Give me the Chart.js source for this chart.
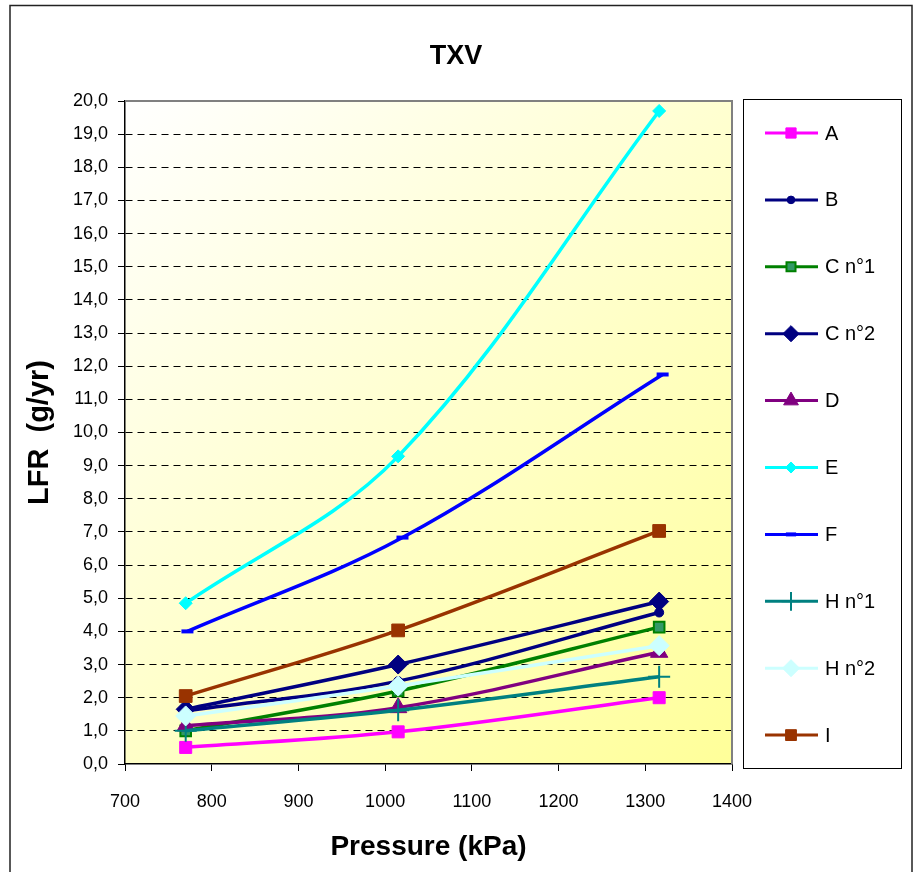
<!DOCTYPE html>
<html>
<head>
<meta charset="utf-8">
<title>TXV</title>
<script src="https://cdn.jsdelivr.net/npm/chart.js@4.4.1/dist/chart.umd.min.js"></script>
<style>
  html, body { margin: 0; padding: 0; background: #fff; }
  canvas { display: block; }
</style>
</head>
<body>
<canvas id="canvasTXV" width="920" height="872"></canvas>
<script>
// Presiones de ensayo (kPa); la serie F se midió en puntos ligeramente distintos
const presiones = [770, 1015, 1316];
const presionesF = [772, 1020, 1320];

// LFR (g/yr) de cada muestra
const lfrA = [0.5, 0.97, 2.0];
const lfrB = [1.6, 2.5, 4.57];
const lfrC1 = [1.0, 2.2, 4.13];
const lfrC2 = [1.65, 3.0, 4.9];
const lfrD = [1.15, 1.7, 3.37];
const lfrE = [4.85, 9.28, 19.7];
const lfrF = [4.0, 6.83, 11.75];
const lfrH1 = [1.0, 1.62, 2.63];
const lfrH2 = [1.45, 2.35, 3.57];
const lfrI = [2.05, 4.03, 7.03];

const etiquetas = ['A', 'B', 'C n°1', 'C n°2', 'D', 'E', 'F', 'H n°1', 'H n°2', 'I'];

// Ejes
const ejeXMin = 700, ejeXMax = 1400, ejeXPaso = 100;
const ejeYMin = 0, ejeYMax = 20, ejeYPaso = 1;

const puntos = (xs, ys) => ys.map((y, i) => ({ x: xs[i], y: y }));

// Estilo de cada serie: color de línea, marcador, relleno del marcador
const estilos = [
    { color: '#ff00ff', marcador: 'rect', radio: 8.5, relleno: '#ff00ff', borde: 1 },
    { color: '#000080', marcador: 'circle', radio: 4.5, relleno: '#000080', borde: 1 },
    { color: '#008000', marcador: 'rect', radio: 7.5, relleno: '#339966', borde: 2 },
    { color: '#000080', marcador: 'rectRot', radio: 9.5, relleno: '#000080', borde: 1 },
    { color: '#800080', marcador: 'triangle', radio: 10, relleno: '#800080', borde: 1 },
    { color: '#00ffff', marcador: 'rectRot', radio: 6.5, relleno: '#00ffff', borde: 1 },
    { color: '#0000ff', marcador: 'line', radio: 6, relleno: '#0000ff', borde: 4 },
    { color: '#008080', marcador: 'cross', radio: 11, relleno: '#008080', borde: 2 },
    { color: '#ccffff', marcador: 'rectRot', radio: 10, relleno: '#ccffff', borde: 1 },
    { color: '#993300', marcador: 'rect', radio: 9, relleno: '#993300', borde: 1 }
];

const valores = [lfrA, lfrB, lfrC1, lfrC2, lfrD, lfrE, lfrF, lfrH1, lfrH2, lfrI];

const datasets = valores.map((ys, i) => {
    const e = estilos[i];
    const xs = etiquetas[i] === 'F' ? presionesF : presiones;
    return {
        label: etiquetas[i],
        data: puntos(xs, ys),
        borderColor: e.color,
        borderWidth: 3.5,
        tension: 0.35,
        fill: false,
        pointStyle: e.marcador,
        pointRadius: e.radio,
        pointBackgroundColor: e.relleno,
        pointBorderColor: e.color,
        pointBorderWidth: e.borde,
        order: -i // la última serie queda encima
    };
});

// Fondo degradado del área de trazado y marco gris superior/derecho
const fondoArea = {
    id: 'fondoArea',
    beforeDraw(chart) {
        const { ctx, chartArea: a } = chart;
        const g = ctx.createLinearGradient(a.left, a.top, a.right, a.bottom);
        g.addColorStop(0, '#ffffff');
        g.addColorStop(1, '#ffff99');
        ctx.save();
        ctx.fillStyle = g;
        ctx.fillRect(a.left, a.top, a.right - a.left, a.bottom - a.top);
        ctx.restore();
    },
    beforeDatasetsDraw(chart) {
        const { ctx, chartArea: a } = chart;
        ctx.save();
        ctx.strokeStyle = '#808080';
        ctx.lineWidth = 2;
        ctx.beginPath();
        ctx.moveTo(a.left, a.top);
        ctx.lineTo(a.right, a.top);
        ctx.lineTo(a.right, a.bottom);
        ctx.stroke();
        ctx.restore();
    },
    afterDraw(chart) {
        const ctx = chart.ctx;
        ctx.save();
        ctx.strokeStyle = '#222';
        ctx.lineWidth = 1.5;
        ctx.strokeRect(10, 5.5, chart.width - 18, chart.height - 4);
        ctx.restore();
    }
};

// Leyenda en caja a la derecha: línea con su marcador y el nombre
const leyendaCaja = {
    id: 'leyendaCaja',
    afterDraw(chart) {
        const { ctx, chartArea: a } = chart;
        const x0 = a.right + 11, y0 = a.top - 2;
        const ancho = 158, alto = a.bottom - a.top + 6;
        const paso = 66.9;
        ctx.save();
        ctx.fillStyle = '#fff';
        ctx.fillRect(x0, y0, ancho, alto);
        ctx.strokeStyle = '#000';
        ctx.lineWidth = 1;
        ctx.strokeRect(x0 + 0.5, y0 + 0.5, ancho, alto);
        chart.data.datasets.forEach((ds, i) => {
            const cy = y0 + 34 + i * paso;
            ctx.strokeStyle = ds.borderColor;
            ctx.lineWidth = 3;
            ctx.beginPath();
            ctx.moveTo(x0 + 22, cy);
            ctx.lineTo(x0 + 75, cy);
            ctx.stroke();
            ctx.fillStyle = ds.pointBackgroundColor;
            ctx.strokeStyle = ds.pointBorderColor;
            ctx.lineWidth = ds.pointBorderWidth;
            Chart.helpers.drawPoint(ctx, {
                pointStyle: ds.pointStyle,
                radius: ds.pointRadius * 0.85,
                borderWidth: ds.pointBorderWidth,
                rotation: 0
            }, x0 + 48, cy);
            ctx.fillStyle = '#000';
            ctx.font = '20px Arial, "Liberation Sans", sans-serif';
            ctx.textBaseline = 'middle';
            ctx.textAlign = 'left';
            ctx.fillText(ds.label, x0 + 82, cy + 1);
        });
        ctx.restore();
    }
};

const fuente = 'Arial, "Liberation Sans", sans-serif';

new Chart(document.getElementById('canvasTXV').getContext('2d'), {
    type: 'line',
    data: { datasets: datasets },
    options: {
        responsive: false,
        animation: false,
        events: [],
        layout: { padding: { left: 0, right: 8, top: 0, bottom: 8 } },
        plugins: {
            legend: { display: false },
            tooltip: { enabled: false },
            title: {
                display: true,
                text: 'TXV',
                color: '#000',
                font: { family: fuente, size: 27, weight: 'bold', lineHeight: 1.2 },
                padding: { top: 40, bottom: 28.6 }
            }
        },
        scales: {
            x: {
                type: 'linear',
                min: ejeXMin,
                max: ejeXMax,
                afterFit: s => { s.height = 100; },
                ticks: {
                    stepSize: ejeXPaso,
                    color: '#000',
                    padding: 20,
                    maxRotation: 0,
                    font: { family: fuente, size: 18 },
                    callback: v => String(v)
                },
                grid: { drawOnChartArea: false, drawTicks: true, tickLength: 7, color: '#000' },
                border: { display: true, color: '#000', width: 1.5 },
                title: {
                    display: true,
                    text: 'Pressure (kPa)',
                    color: '#000',
                    font: { family: fuente, size: 28, weight: 'bold', lineHeight: 1.2 },
                    padding: { top: 0, bottom: 0 }
                }
            },
            y: {
                min: ejeYMin,
                max: ejeYMax,
                afterFit: s => { s.width = 125; },
                ticks: {
                    stepSize: ejeYPaso,
                    color: '#000',
                    padding: 10,
                    font: { family: fuente, size: 18 },
                    callback: v => v.toFixed(1).replace('.', ',')
                },
                grid: {
                    color: c => (c.tick && (c.tick.value === ejeYMin || c.tick.value === ejeYMax)) ? 'rgba(0,0,0,0)' : '#000',
                    tickColor: '#000',
                    lineWidth: 1,
                    tickLength: 7,
                    drawTicks: true
                },
                border: { display: true, color: '#000', width: 1.5, dash: [7, 5] },
                title: {
                    display: true,
                    text: 'LFR  (g/yr)',
                    color: '#000',
                    font: { family: fuente, size: 29, weight: 'bold', lineHeight: 1.2 },
                    padding: { top: 23, bottom: 0 }
                }
            },
            // columna derecha reservada para la leyenda
            reserva: {
                type: 'linear',
                position: 'right',
                display: true,
                afterFit: s => { s.width = 180; },
                ticks: { display: false },
                grid: { display: false },
                border: { display: false }
            }
        }
    },
    plugins: [fondoArea, leyendaCaja]
});
</script>
</body>
</html>
